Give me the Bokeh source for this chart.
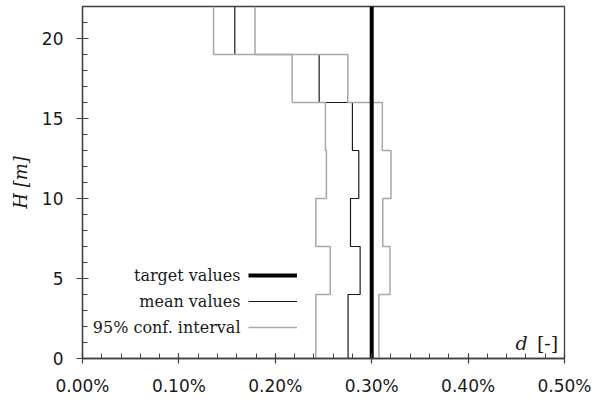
import numpy as np
from bokeh.plotting import figure
from bokeh.models import FixedTicker, Legend, LegendItem, Label, Range1d
from bokeh.embed import file_html
from bokeh.resources import INLINE

# ---- data (d in %, H in m) ----
layer_bounds = [0, 4, 7, 10, 13, 16, 19, 22]
ci_lower = [0.242, 0.257, 0.242, 0.253, 0.252, 0.2175, 0.136]
mean_vals = [0.2755, 0.288, 0.278, 0.2866, 0.280, 0.2455, 0.158]
ci_upper = [0.3075, 0.319, 0.3115, 0.320, 0.311, 0.2752, 0.179]
target_value = 0.30
x_ticks = [0.0, 0.1, 0.2, 0.3, 0.4, 0.5]
x_tick_labels = ["0.00%", "0.10%", "0.20%", "0.30%", "0.40%", "0.50%"]
x_minor = [i * 0.02 for i in range(26)]
y_ticks = [0, 5, 10, 15, 20]
y_minor = list(range(0, 23))
legend_labels = ["target values", "mean values", "95% conf. interval"]


def steps(vals, bounds):
    b = np.asarray(bounds, dtype=float)
    xs = np.repeat(np.asarray(vals, dtype=float), 2)
    ys = np.column_stack([b[:-1], b[1:]]).ravel()
    return xs, ys


p = figure(width=594, height=402, output_backend="svg", toolbar_location=None,
           x_range=Range1d(0, 0.5), y_range=Range1d(layer_bounds[0], layer_bounds[-1]),
           min_border_left=82, min_border_right=30, min_border_top=6, min_border_bottom=44)
p.grid.visible = False
p.outline_line_color = "#404040"
p.outline_line_width = 1.3
p.background_fill_color = "white"

AX = "#404040"
for ax in (p.xaxis[0], p.yaxis[0]):
    ax.axis_line_color = AX
    ax.axis_line_width = 1.3
    ax.major_tick_line_color = AX
    ax.minor_tick_line_color = AX
    ax.major_tick_line_width = 1.2
    ax.minor_tick_line_width = 1.0
    ax.major_label_text_font = "DejaVu Sans"
    ax.major_label_text_font_size = "17px"
    ax.major_label_text_color = "#1a1a1a"
    ax.minor_tick_out = 0
    ax.minor_tick_in = 5

p.xaxis.ticker = FixedTicker(ticks=x_ticks, minor_ticks=x_minor)
p.xaxis.major_label_overrides = {t: l for t, l in zip(x_ticks, x_tick_labels)}
p.xaxis.major_tick_in = 5
p.xaxis.major_tick_out = 5
p.xaxis.major_label_standoff = 12

p.yaxis.ticker = FixedTicker(ticks=y_ticks, minor_ticks=y_minor)
p.yaxis.major_tick_in = 6
p.yaxis.major_tick_out = 6
p.yaxis.major_label_standoff = 13
p.yaxis.axis_label = "H [m]"
p.yaxis.axis_label_text_font = "DejaVu Serif"
p.yaxis.axis_label_text_font_style = "italic"
p.yaxis.axis_label_text_font_size = "18px"
p.yaxis.axis_label_text_color = "#1a1a1a"
p.yaxis.axis_label_standoff = 8

GRAY = "#a8a8a8"
lx, ly = steps(ci_lower, layer_bounds)
ux, uy = steps(ci_upper, layer_bounds)
mx, my = steps(mean_vals, layer_bounds)
r_mean = p.line(mx, my, line_color="#1a1a1a", line_width=1.2)
r_lo = p.line(lx, ly, line_color=GRAY, line_width=1.5)
r_up = p.line(ux, uy, line_color=GRAY, line_width=1.5)
r_target = p.line([target_value, target_value], [layer_bounds[0], layer_bounds[-1]],
                  line_color="black", line_width=4)

legend = Legend(items=[LegendItem(label=" ", renderers=[r_target]),
                       LegendItem(label=" ", renderers=[r_mean]),
                       LegendItem(label=" ", renderers=[r_lo])],
                location=(166, 20), glyph_width=49, glyph_height=22, spacing=4,
                padding=0, margin=0, border_line_alpha=0, background_fill_alpha=0,
                label_standoff=0, label_width=0, label_text_font_size="1px")
p.add_layout(legend)

row_y = [83.3, 57.3, 31.3]
for txt, yy in zip(legend_labels, row_y):
    p.add_layout(Label(x=158, y=yy, x_units="screen", y_units="screen", text=txt,
                       text_align="right", text_baseline="middle",
                       text_font="DejaVu Serif", text_font_size="16px", text_color="#1a1a1a"))

# x-axis title inside the frame
p.add_layout(Label(x=439, y=16, x_units="screen", y_units="screen", text="d",
                   text_align="center", text_baseline="alphabetic", text_font="DejaVu Serif",
                   text_font_style="italic", text_font_size="19px", text_color="#1a1a1a"))
p.add_layout(Label(x=465, y=16, x_units="screen", y_units="screen", text="[-]",
                   text_align="center", text_baseline="alphabetic", text_font="DejaVu Serif",
                   text_font_size="19px", text_color="#1a1a1a"))

open("out.html", "w").write(file_html(p, INLINE))
